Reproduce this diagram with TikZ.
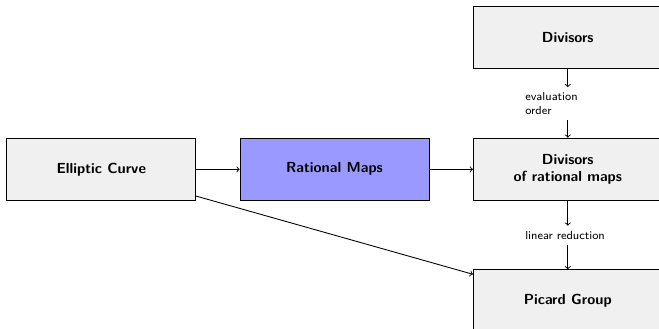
\documentclass[tikz,border=0pt]{standalone}
\usetikzlibrary{positioning}
\begin{document}
\begin{tikzpicture}[font=\sffamily, >=to, semithick, node distance=1.65cm and 1.05cm]
\tikzset{
box/.style={draw, fill=black!6, minimum width=4.55cm, minimum height=1.5cm, align=center, font=\sffamily\bfseries},
lbl/.style={font=\sffamily\footnotesize, text width=2.05cm, align=left}
}
\path[use as bounding box, clip] (-2.44,-3.83) rectangle (13.44,4.08);
% main row
\node[box] (ec) {Elliptic Curve};
\node[box, fill=blue!40, right=of ec] (rm) {Rational Maps};
\node[box, right=of rm] (dr) {Divisors\\of rational maps};
% right column
\node[box, above=of dr] (dv) {Divisors};
\node[box, below=of dr] (pg) {Picard Group};
\path (dv) -- node[lbl] (eo) {evaluation\\order} (dr);
\path (dr) -- node[lbl] (lr) {linear reduction} (pg);
\draw[->] (ec) -- (rm);
\draw[->] (rm) -- (dr);
\draw[->] (dv) -- (eo);
\draw[->] (eo) -- (dr);
\draw[->] (dr) -- (lr);
\draw[->] (lr) -- (pg);
\draw[->] (ec) -- (pg);
\end{tikzpicture}
\end{document}
